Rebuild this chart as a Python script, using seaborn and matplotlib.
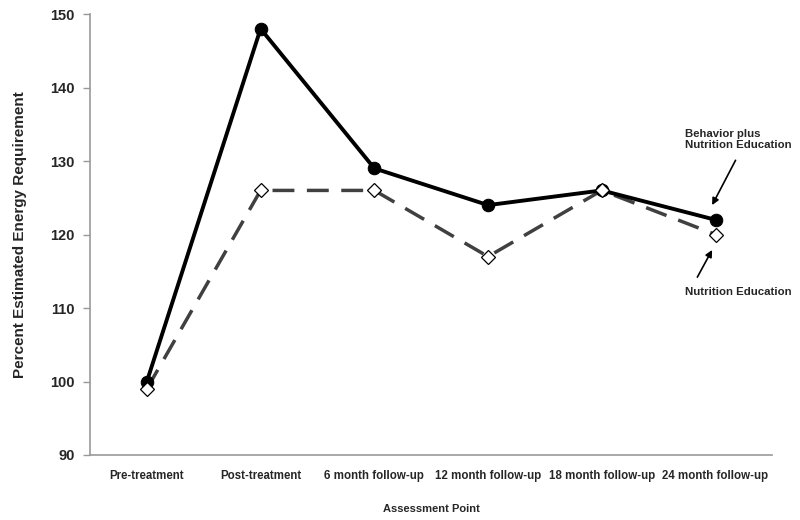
import matplotlib
matplotlib.use("Agg")
import matplotlib.pyplot as plt
import seaborn as sns

categories = ["Pre-treatment", "Post-treatment", "6 month follow-up",
              "12 month follow-up", "18 month follow-up", "24 month follow-up"]
behavior = [100, 148, 129, 124, 126, 122]
nutrition = [99, 126, 126, 117, 126, 120]
y_ticks = [90, 100, 110, 120, 130, 140, 150]

sns.set_theme(style="white")
plt.rcParams['font.family'] = ['Liberation Sans', 'DejaVu Sans']

fig = plt.figure(figsize=(8, 5.2), dpi=100)
ax = fig.add_axes([0.1125, 0.125, 0.853, 0.848])

xs = list(range(len(categories)))
sns.lineplot(x=xs, y=nutrition, ax=ax, color="#404040", linewidth=2.5,
             linestyle="--", zorder=2)
ax.lines[-1].set_dashes((6.3, 3.6))
sns.lineplot(x=xs, y=behavior, ax=ax, color="black", linewidth=2.8,
             marker="o", markersize=9, markerfacecolor="black", markeredgecolor="black", zorder=3)
ax.plot(xs, nutrition, linestyle="none", marker="D", markersize=7.5,
        markerfacecolor="white", markeredgecolor="black", markeredgewidth=0.9, zorder=4)

ax.set_xlim(-0.5, len(categories) - 0.5)
ax.set_ylim(90, 150)
ax.set_yticks(y_ticks)
ax.set_xticks(xs)
ax.set_xticklabels(categories, fontsize=8.3, fontweight="bold")
ax.set_yticklabels([str(t) for t in y_ticks], fontsize=10.5, fontweight="bold")
ax.tick_params(axis="y", direction="out", length=5, color="#999999", width=1, left=True, pad=6)
ax.tick_params(axis="x", length=0, pad=11)

for s in ["top", "right"]:
    ax.spines[s].set_visible(False)
for s in ["left", "bottom"]:
    ax.spines[s].set_color("#999999")
    ax.spines[s].set_linewidth(1.2)

ax.set_xlabel("Assessment Point", fontsize=8, fontweight="bold", labelpad=16)
ax.set_ylabel("Percent Estimated Energy Requirement", fontsize=11, fontweight="bold", labelpad=17)
if ax.get_legend():
    ax.get_legend().remove()

arrow = dict(arrowstyle="-|>", color="black", lw=1.2, mutation_scale=10, shrinkA=0, shrinkB=0)
ax.text(4.735, 134.4, "Behavior plus\nNutrition Education", fontsize=8.2, fontweight="bold",
        ha="left", va="top", linespacing=1.15)
ax.annotate("", xy=(4.97, 124.0), xytext=(5.176, 130.1), arrowprops=arrow)
ax.annotate("", xy=(4.97, 117.9), xytext=(4.84, 114.2), arrowprops=arrow)
ax.text(4.735, 112.2, "Nutrition Education", fontsize=8.2, fontweight="bold", ha="left", va="center")

fig.savefig("out.png", dpi=100)
